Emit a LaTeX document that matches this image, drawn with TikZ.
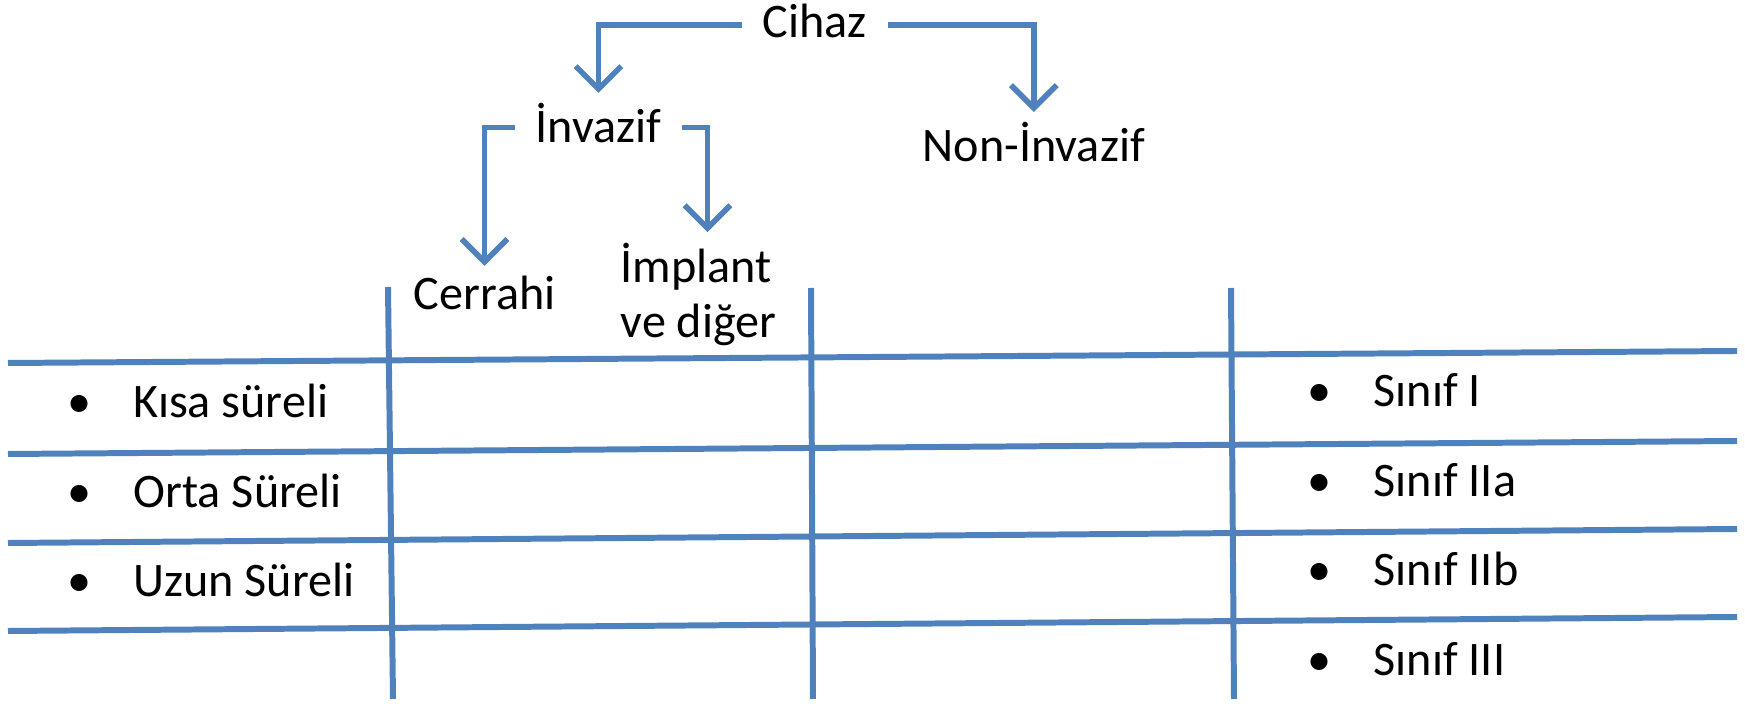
\documentclass[tikz,border=0pt]{standalone}
\usepackage{fontspec}
\setmainfont{Carlito}
\usetikzlibrary{arrows.meta}
\definecolor{officeblue}{RGB}{79,129,189}

\begin{document}
\begin{tikzpicture}[x=0.01cm, y=-0.01cm,
    lbl/.style={font=\fontsize{13.7}{15.9}\selectfont, anchor=base west,
        inner xsep=0.2cm, inner ysep=0.1cm, text depth=0.08cm, align=left},
    item/.style={lbl, inner xsep=0pt},
    conn/.style={draw=officeblue, line width=1.6pt,
        -{Straight Barb[length=6.5pt,width=13pt]}},
    rule/.style={draw=officeblue, line width=1.7pt}]
    \useasboundingbox (0,0) rectangle (1745,704);

    % Tree
    \node[lbl] (cihaz) at (742,38) {Cihaz};
    \node[lbl] (invazif) at (515,143) {İnvazif};
    \node[lbl] (noninv) at (902,162) {Non-İnvazif};
    \node[lbl] (cerrahi) at (393,310) {Cerrahi};
    \node[lbl] (implant) at (600,338) {İmplant\\ve diğer};

    \draw[conn] (cihaz.west) -| (invazif.north);
    \draw[conn] (cihaz.east) -| (noninv.north);
    \draw[conn] (invazif.west) -| (cerrahi.north);
    \draw[conn] (invazif.east) -| ([xshift=0.09cm]implant.north);

    % Grid
    \draw[rule] (8,363) -- (1737,351);
    \draw[rule] (8,454) -- (1737,441);
    \draw[rule] (8,543) -- (1737,529);
    \draw[rule] (8,631) -- (1737,617);
    \draw[rule] (388,287) -- (393,699);
    \draw[rule] (811,288) -- (813,699);
    \draw[rule] (1231,288) -- (1234,699);

    % Duration column
    \node[item] (kisa) at (133,418) {\llap{\makebox[0pt]{•}\hspace{0.54cm}}Kısa süreli};
    \node[item] (orta) at (133,508) {\llap{\makebox[0pt]{•}\hspace{0.54cm}}Orta Süreli};
    \node[item] (uzun) at (133,597) {\llap{\makebox[0pt]{•}\hspace{0.54cm}}Uzun Süreli};

    % Class column
    \node[item] (s1) at (1373,407) {\llap{\makebox[0pt]{•}\hspace{0.54cm}}Sınıf I};
    \node[item] (s2a) at (1373,497) {\llap{\makebox[0pt]{•}\hspace{0.54cm}}Sınıf IIa};
    \node[item] (s2b) at (1373,586) {\llap{\makebox[0pt]{•}\hspace{0.54cm}}Sınıf IIb};
    \node[item] (s3) at (1373,676) {\llap{\makebox[0pt]{•}\hspace{0.54cm}}Sınıf III};
\end{tikzpicture}
\end{document}
